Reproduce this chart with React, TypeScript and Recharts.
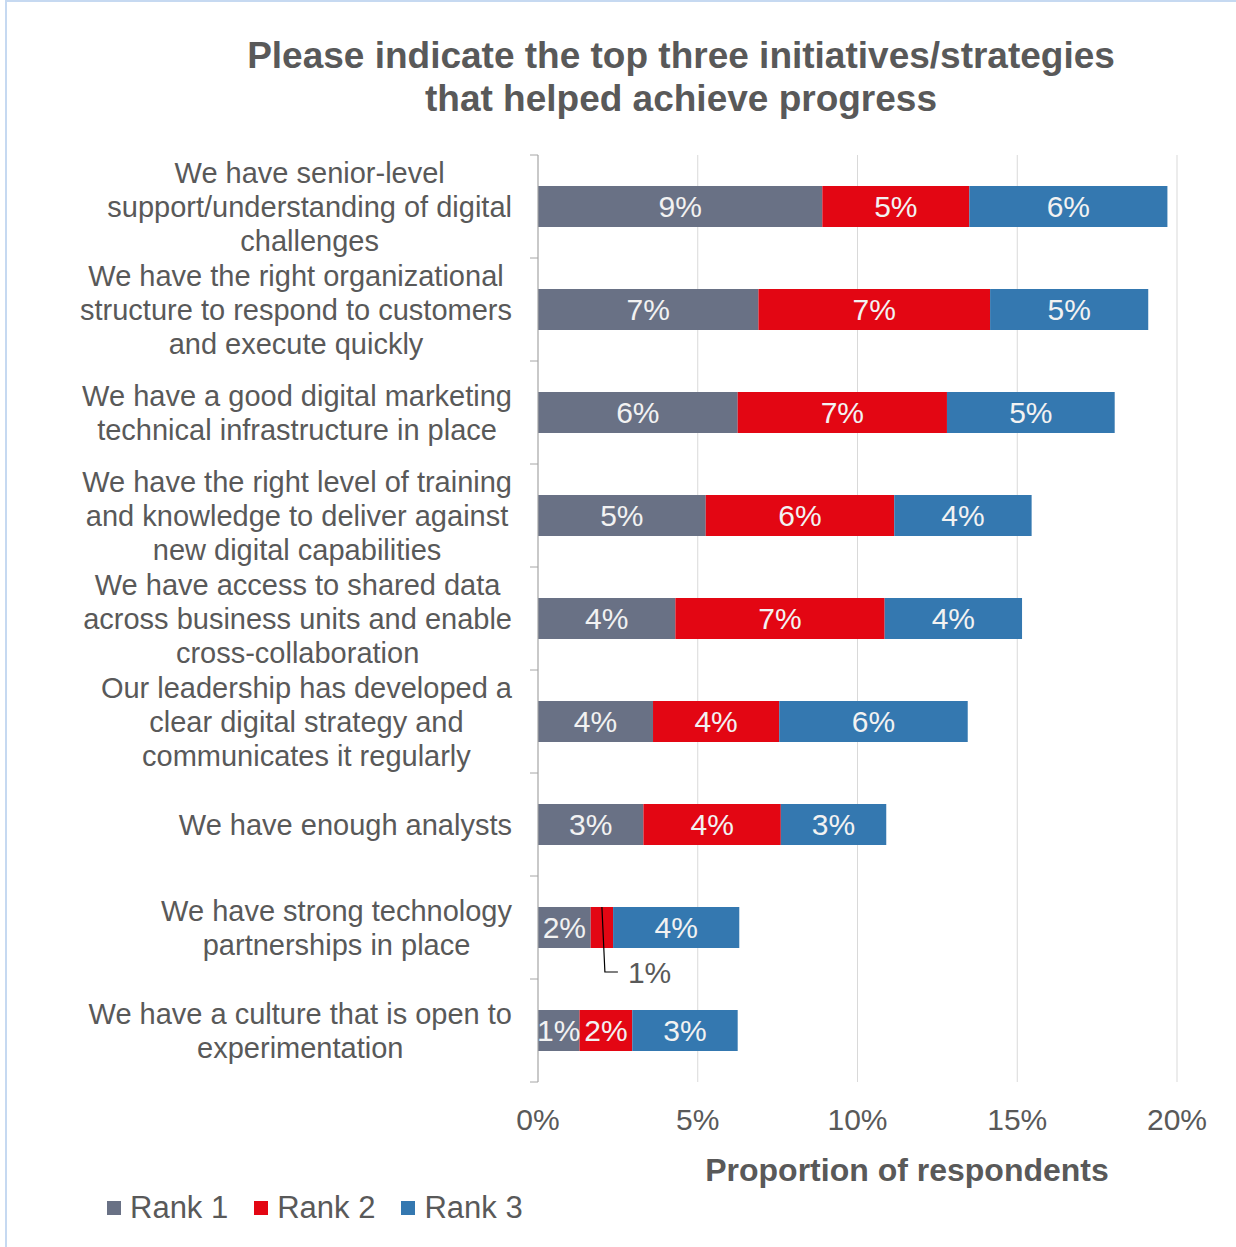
import React from "react";
import {
  BarChart,
  Bar,
  XAxis,
  YAxis,
  CartesianGrid,
  Legend,
  LabelList,
} from "recharts";

// categories, top to bottom (line breaks as in the source chart)
const categories = [
  "We have senior-level\nsupport/understanding of digital\nchallenges",
  "We have the right organizational\nstructure to respond to customers\nand execute quickly",
  "We have a good digital marketing\ntechnical infrastructure in place",
  "We have the right level of training\nand knowledge to deliver against\nnew digital capabilities",
  "We have access to shared data\nacross business units and enable\ncross-collaboration",
  "Our leadership has developed a\nclear digital strategy and\ncommunicates it regularly",
  "We have enough analysts",
  "We have strong technology\npartnerships in place",
  "We have a culture that is open to\nexperimentation",
];

// share of respondents, in %
const rank1 = [8.9, 6.9, 6.25, 5.25, 4.3, 3.6, 3.3, 1.65, 1.3];
const rank2 = [4.6, 7.25, 6.55, 5.9, 6.55, 3.95, 4.3, 0.7, 1.65];
const rank3 = [6.2, 4.95, 5.25, 4.3, 4.3, 5.9, 3.3, 3.95, 3.3];

const xTicks = [0, 5, 10, 15, 20];

const seriesNames = ["Rank 1", "Rank 2", "Rank 3"];
const seriesKeys = ["rank1", "rank2", "rank3"];
const colors = ["#697185", "#e30613", "#3478b0"];

const data = categories.map((name, i) => ({
  name,
  rank1: rank1[i],
  rank2: rank2[i],
  rank3: rank3[i],
}));

const TEXT = "#595959";
const FONT = "'Liberation Sans', Arial, sans-serif";
const PLOT_TOP = 155;
const PLOT_BOTTOM = 1082;
const AXIS_X = 538;
const BAND = (PLOT_BOTTOM - PLOT_TOP) / categories.length;

let ctx: CanvasRenderingContext2D | null = null;
function textWidth(s: string, font: string) {
  if (!ctx) ctx = document.createElement("canvas").getContext("2d");
  if (!ctx) return s.length * 14;
  ctx.font = font;
  return ctx.measureText(s).width;
}

function CategoryTick(props: any) {
  const { y, payload, index } = props;
  const lines = String(payload.value).split("\n");
  const font = `29px ${FONT}`;
  const maxW = Math.max(...lines.map((l) => textWidth(l, font)));
  const cx = 512 - maxW / 2;
  const lh = 34;
  const top = y - ((lines.length - 1) * lh) / 2;
  return (
    <g>
      <line x1={AXIS_X - 8} x2={AXIS_X} y1={y - BAND / 2} y2={y - BAND / 2} stroke="#a6a6a6" />
      {index === categories.length - 1 && (
        <line x1={AXIS_X - 8} x2={AXIS_X} y1={y + BAND / 2} y2={y + BAND / 2} stroke="#a6a6a6" />
      )}
      <text textAnchor="middle" fontSize={29} fill={TEXT} fontFamily={FONT}>
        {lines.map((l, i) => (
          <tspan key={i} x={cx} y={top + i * lh} dy="0.35em">
            {l}
          </tspan>
        ))}
      </text>
    </g>
  );
}

function inLabel(props: any) {
  const { x, y, width, height, value } = props;
  return (
    <text
      x={x + width / 2}
      y={y + height / 2}
      dy="0.35em"
      textAnchor="middle"
      fontSize={30}
      fill="#f2f2f2"
      fontFamily={FONT}
    >
      {Math.round(value)}%
    </text>
  );
}

// small slices get their label pulled out below the bar
function rank2Label(props: any) {
  const { x, y, width, height, value } = props;
  if (width >= 30) return inLabel(props);
  const cx = x + width / 2;
  const ly = y + height + 24;
  return (
    <g>
      <polyline
        points={`${cx},${y} ${cx + 3},${ly} ${cx + 16},${ly}`}
        fill="none"
        stroke="#000"
        strokeWidth={1.2}
      />
      <text x={cx + 26} y={ly} dy="0.35em" fontSize={30} fill={TEXT} fontFamily={FONT}>
        {Math.round(value)}%
      </text>
    </g>
  );
}

function LegendBox() {
  return (
    <div style={{ display: "flex", fontFamily: FONT, fontSize: 31, color: TEXT }}>
      {seriesNames.map((n, i) => (
        <div key={n} style={{ display: "flex", alignItems: "center", marginRight: 26 }}>
          <span style={{ width: 14, height: 14, background: colors[i], marginRight: 9 }} />
          <span>{n}</span>
        </div>
      ))}
    </div>
  );
}

export default function App() {
  return (
    <div
      style={{
        position: "absolute",
        left: 0,
        top: 0,
        width: 1236,
        height: 1247,
        background: "#fff",
        overflow: "hidden",
        fontFamily: FONT,
      }}
    >
      <div style={{ position: "absolute", left: 5, top: 0, width: 2, height: 1247, background: "#c6d9f1" }} />
      <div style={{ position: "absolute", left: 5, top: 0, width: 1231, height: 2, background: "#c6d9f1" }} />
      <div
        style={{
          position: "absolute",
          left: 181,
          width: 1000,
          top: 34,
          textAlign: "center",
          fontSize: 37,
          lineHeight: "43px",
          fontWeight: "bold",
          color: TEXT,
        }}
      >
        Please indicate the top three initiatives/strategies
        <br />
        that helped achieve progress
      </div>
      <div
        style={{
          position: "absolute",
          left: 607,
          width: 600,
          top: 1152,
          textAlign: "center",
          fontSize: 32,
          fontWeight: "bold",
          color: TEXT,
        }}
      >
        Proportion of respondents
      </div>
      <div style={{ position: "absolute", left: 0, top: 0 }}>
        <BarChart
          width={1236}
          height={1247}
          data={data}
          layout="vertical"
          margin={{ top: PLOT_TOP, right: 59, bottom: 125, left: 0 }}
        >
          <CartesianGrid horizontal={false} stroke="#d9d9d9" />
          <XAxis
            type="number"
            domain={[0, 20]}
            ticks={xTicks}
            tickFormatter={(v) => `${v}%`}
            axisLine={false}
            tickLine={false}
            tickMargin={21}
            height={40}
            tick={{ fontSize: 30, fill: TEXT, fontFamily: FONT }}
          />
          <YAxis
            type="category"
            dataKey="name"
            width={538}
            axisLine={{ stroke: "#a6a6a6" }}
            tickLine={false}
            tick={<CategoryTick />}
            interval={0}
          />
          <Legend
            layout="vertical"
            align="center"
            verticalAlign="middle"
            content={<LegendBox />}
            wrapperStyle={{ position: "absolute", left: 107, top: 1190, width: 500 }}
          />
          {seriesKeys.map((k, i) => (
            <Bar
              key={k}
              dataKey={k}
              name={seriesNames[i]}
              stackId="a"
              fill={colors[i]}
              barSize={41}
              isAnimationActive={false}
            >
              <LabelList dataKey={k} content={i === 1 ? rank2Label : inLabel} />
            </Bar>
          ))}
        </BarChart>
      </div>
    </div>
  );
}
